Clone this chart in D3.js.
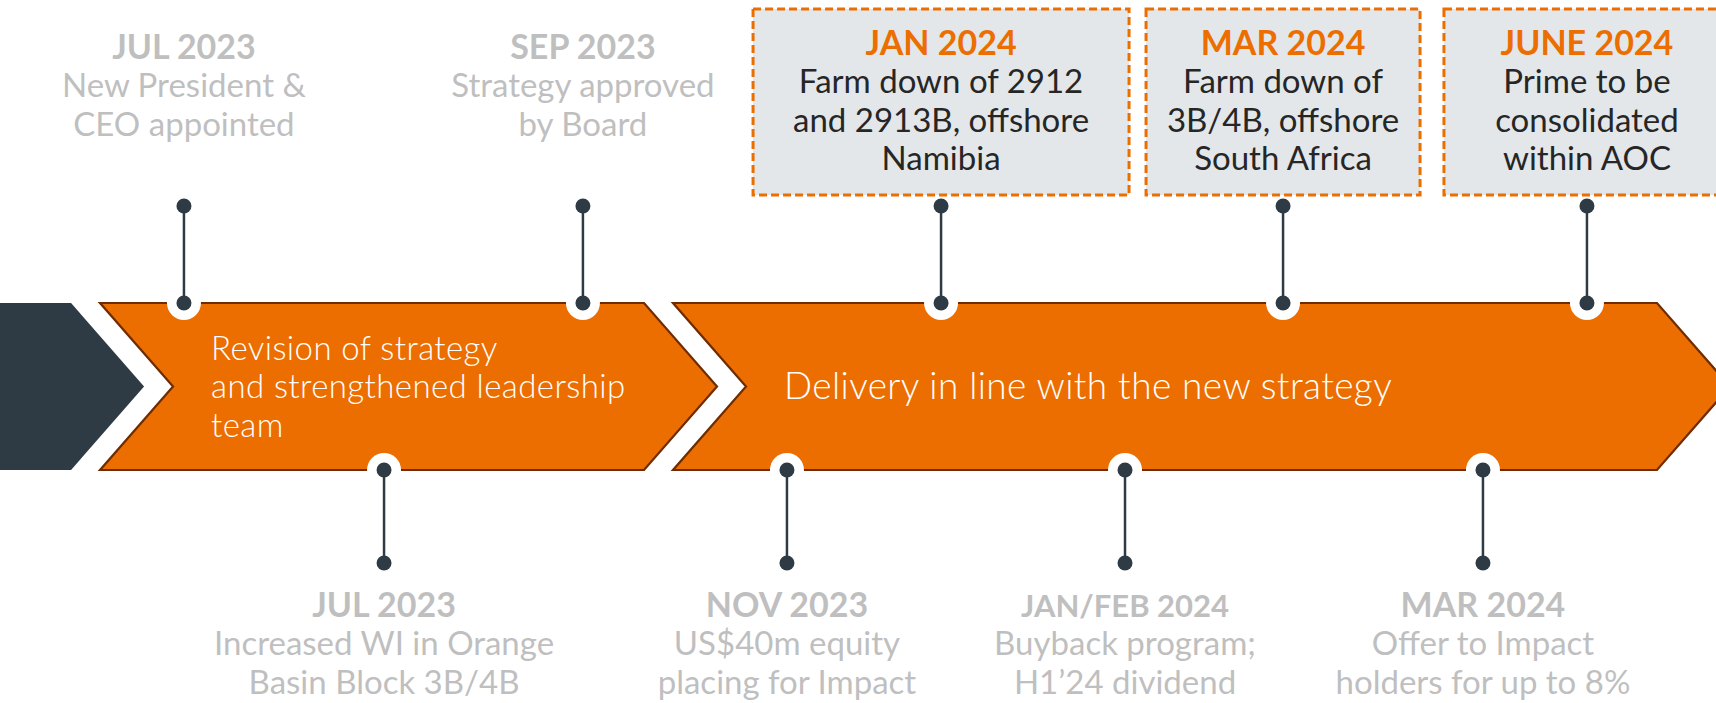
<!DOCTYPE html>
<html>
<head>
<meta charset="utf-8">
<script src="https://cdn.jsdelivr.net/npm/d3@7"></script>
<style>
  body { margin: 0; background: #fff; overflow: hidden; }
  text { font-family: Lato, "Open Sans", sans-serif; }
</style>
</head>
<body>
<div id="chart"></div>
<script>
// Phases of the timeline (chevrons), position on a 0-100 timeline
const phaseLabels = [
  [],
  ["Revision of strategy", "and strengthened leadership", "team"],
  ["Delivery in line with the new strategy"]
];
const phaseStart = [0, 5.83, 39.22];
const phaseEnd = [4.14, 37.53, 96.56];

// Milestones above the arrow
const topDates = ["JUL 2023", "SEP 2023", "JAN 2024", "MAR 2024", "JUNE 2024"];
const topTexts = [
  ["New President &", "CEO appointed"],
  ["Strategy approved", "by Board"],
  ["Farm down of 2912", "and 2913B, offshore", "Namibia"],
  ["Farm down of", "3B/4B, offshore", "South Africa"],
  ["Prime to be", "consolidated", "within AOC"]
];
const topPos = [10.72, 33.97, 54.84, 74.77, 92.48];
const topHighlight = [false, false, true, true, true];

// Milestones below the arrow
const bottomDates = ["JUL 2023", "NOV 2023", "JAN/FEB 2024", "MAR 2024"];
const bottomTexts = [
  ["Increased WI in Orange", "Basin Block 3B/4B"],
  ["US$40m equity", "placing for Impact"],
  ["Buyback program;", "H1\u201924 dividend"],
  ["Offer to Impact", "holders for up to 8%"]
];
const bottomPos = [22.38, 45.86, 65.56, 86.42];

var width = 1716, height = 703;
var arrowTop = 303, arrowBottom = 470, arrowMid = (arrowTop + arrowBottom) / 2;
var depth = 73;
var orange = "#EC6E00", dark = "#2E3B44", grey = "#BFBFBF";
var boxWidths = { 2: 376, 3: 274, 4: 286 };
var lineH = 38.3;

var x = d3.scaleLinear().domain([0, 100]).range([0, width]);

var svg = d3.select("#chart").append("svg")
  .attr("width", width)
  .attr("height", height);

// chevrons
var line = d3.line();
var phases = phaseStart.map(function (s, i) {
  return { start: s, end: phaseEnd[i], label: phaseLabels[i], i: i };
});

svg.append("g").selectAll("path")
  .data(phases)
  .enter().append("path")
  .attr("d", function (d) {
    var x0 = x(d.start), x1 = x(d.end);
    var pts = [[x0, arrowTop], [x1, arrowTop], [x1 + depth, arrowMid], [x1, arrowBottom], [x0, arrowBottom]];
    if (d.i > 0) pts.push([x0 + depth, arrowMid]);
    return line(pts) + "Z";
  })
  .attr("fill", function (d) { return d.i === 0 ? dark : orange; })
  .attr("stroke", function (d) { return d.i === 0 ? "none" : "#6E2C00"; })
  .attr("stroke-width", 2.2)
  .attr("stroke-linejoin", "miter");

// phase labels
svg.append("g").selectAll("text")
  .data(phases.filter(function (d) { return d.label.length; }))
  .enter().append("text")
  .attr("fill", "#fff")
  .attr("font-size", function (d) { return d.label.length > 1 ? 33 : 37; })
  .attr("letter-spacing", 0.4)
  .attr("font-weight", 300)
  .each(function (d) {
    var t = d3.select(this);
    var n = d.label.length;
    var x0 = x(d.start) + depth + 38;
    var y0 = n > 1 ? 360 : 399;
    d.label.forEach(function (s, k) {
      t.append("tspan").attr("x", x0).attr("y", y0 + k * lineH).text(s);
    });
  });

// pins
var topEvents = topDates.map(function (d, i) {
  return { date: d, lines: topTexts[i], pos: topPos[i], hi: topHighlight[i], i: i };
});
var bottomEvents = bottomDates.map(function (d, i) {
  return { date: d, lines: bottomTexts[i], pos: bottomPos[i] };
});

function pins(data, yEdge, yEnd) {
  var g = svg.append("g").selectAll("g")
    .data(data)
    .enter().append("g")
    .attr("transform", function (d) { return "translate(" + x(d.pos) + ",0)"; });
  g.append("circle").attr("cy", yEdge).attr("r", 17).attr("fill", "#fff");
  g.append("line")
    .attr("y1", yEdge).attr("y2", yEnd)
    .attr("stroke", dark).attr("stroke-width", 2.5);
  g.append("circle").attr("cy", yEdge).attr("r", 7.5).attr("fill", dark);
  g.append("circle").attr("cy", yEnd).attr("r", 7.5).attr("fill", dark);
}
pins(topEvents, arrowTop, 206);
pins(bottomEvents, arrowBottom, 563);

// boxes for highlighted milestones
svg.append("g").selectAll("rect")
  .data(topEvents.filter(function (d) { return d.hi; }))
  .enter().append("rect")
  .attr("x", function (d) { return x(d.pos) - boxWidths[d.i] / 2; })
  .attr("y", 9)
  .attr("width", function (d) { return boxWidths[d.i]; })
  .attr("height", 186)
  .attr("fill", "#E3E7EA")
  .attr("stroke", orange)
  .attr("stroke-width", 3)
  .attr("stroke-dasharray", "8,4");

function labels(data, yDate) {
  svg.append("g").selectAll("text")
    .data(data)
    .enter().append("text")
    .attr("text-anchor", "middle")
    .each(function (d) {
      var el = d3.select(this);
      var cx = x(d.pos);
      el.append("tspan")
        .attr("x", cx).attr("y", yDate(d))
        .attr("font-size", d.date.length > 10 ? 31 : 34)
        .attr("font-weight", 700)
        .attr("fill", d.hi ? orange : grey)
        .text(d.date);
      d.lines.forEach(function (s, k) {
        el.append("tspan")
          .attr("x", cx).attr("y", yDate(d) + (k + 1) * lineH)
          .attr("font-size", 33)
          .attr("font-weight", 400)
          .attr("fill", d.hi ? "#262626" : grey)
          .text(s);
      });
    });
}
labels(topEvents, function (d) { return d.hi ? 55 : 59; });
labels(bottomEvents, function () { return 617; });
</script>
</body>
</html>
